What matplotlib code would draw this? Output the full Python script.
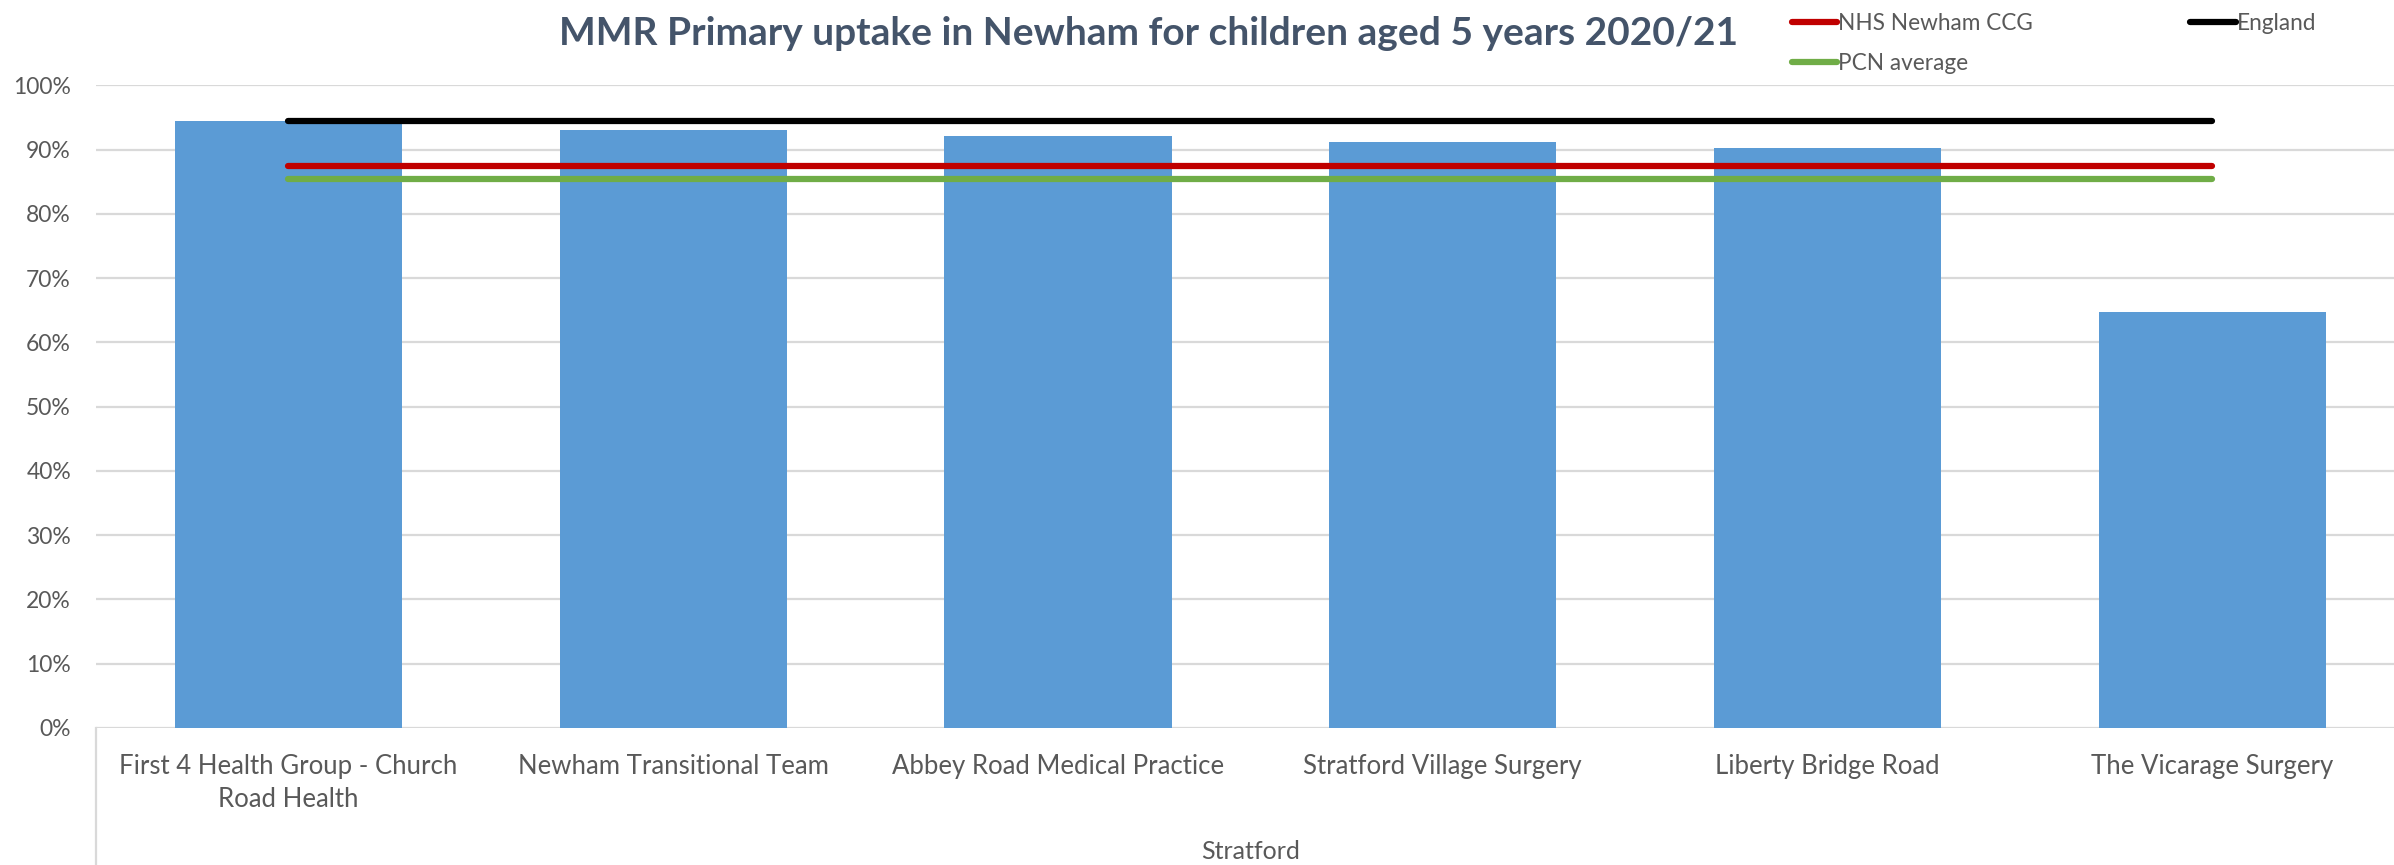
import matplotlib
matplotlib.use("Agg")
import matplotlib.pyplot as plt
from matplotlib.ticker import PercentFormatter

practices = [
    "First 4 Health Group - Church\nRoad Health",
    "Newham Transitional Team",
    "Abbey Road Medical Practice",
    "Stratford Village Surgery",
    "Liberty Bridge Road",
    "The Vicarage Surgery",
]
pcn_name = "Stratford"
uptake = [0.945, 0.931, 0.922, 0.912, 0.902, 0.647]
newham_ccg = [0.875] * 6
england = [0.944] * 6
pcn_average = [0.855] * 6

plt.rcParams["font.family"] = ["Lato", "DejaVu Sans"]
grey = "#595959"

fig = plt.figure(figsize=(23.94, 8.65), dpi=100)
ax = fig.add_axes([0.0401, 0.1584, 0.9644, 0.7428])

x = list(range(len(practices)))
ax.bar(x, uptake, width=0.59, color="#5B9BD5", zorder=2)
l_ccg, = ax.plot(x, newham_ccg, color="#C00000", lw=4.5, solid_capstyle="round", zorder=3)
l_eng, = ax.plot(x, england, color="#000000", lw=4.5, solid_capstyle="round", zorder=3)
l_pcn, = ax.plot(x, pcn_average, color="#70AD47", lw=4.5, solid_capstyle="round", zorder=3)

ax.set_xlim(-0.5, len(practices) - 0.5)
ax.set_ylim(0, 1.0)
ax.set_yticks([i / 10 for i in range(11)])
ax.yaxis.set_major_formatter(PercentFormatter(1.0, decimals=0))
ax.grid(axis="y", color="#D9D9D9", lw=1.6, zorder=0)
for s in ax.spines.values():
    s.set_visible(False)
ax.tick_params(axis="y", length=0, pad=18, labelsize=16.5, labelcolor=grey)
ax.tick_params(axis="x", length=0, pad=19, labelsize=18.5, labelcolor=grey)
ax.set_xticks(x)
ax.set_xticklabels(practices, linespacing=1.38)

# group axis
ax.plot([0, 0], [0, -0.215], transform=ax.transAxes, color="#D9D9D9", lw=1.6, clip_on=False)
ax.text(0.5, -0.193, pcn_name, transform=ax.transAxes, ha="center", va="center",
        fontsize=18, color=grey)

fig.text(0.4796, 0.961, "MMR Primary uptake in Newham for children aged 5 years 2020/21",
         ha="center", va="center", fontsize=28, fontweight="bold", color="#44546A")

leg = fig.legend([l_ccg, l_pcn, l_eng], ["NHS Newham CCG", "PCN average", "England"],
                 ncol=2, loc="upper left", bbox_to_anchor=(0.740, 1.009), frameon=False,
                 fontsize=16.3, handlelength=2.0, handletextpad=0.05, columnspacing=6.95,
                 labelspacing=0.87)
for t in leg.get_texts():
    t.set_color(grey)

fig.savefig("out.png", dpi=100)
